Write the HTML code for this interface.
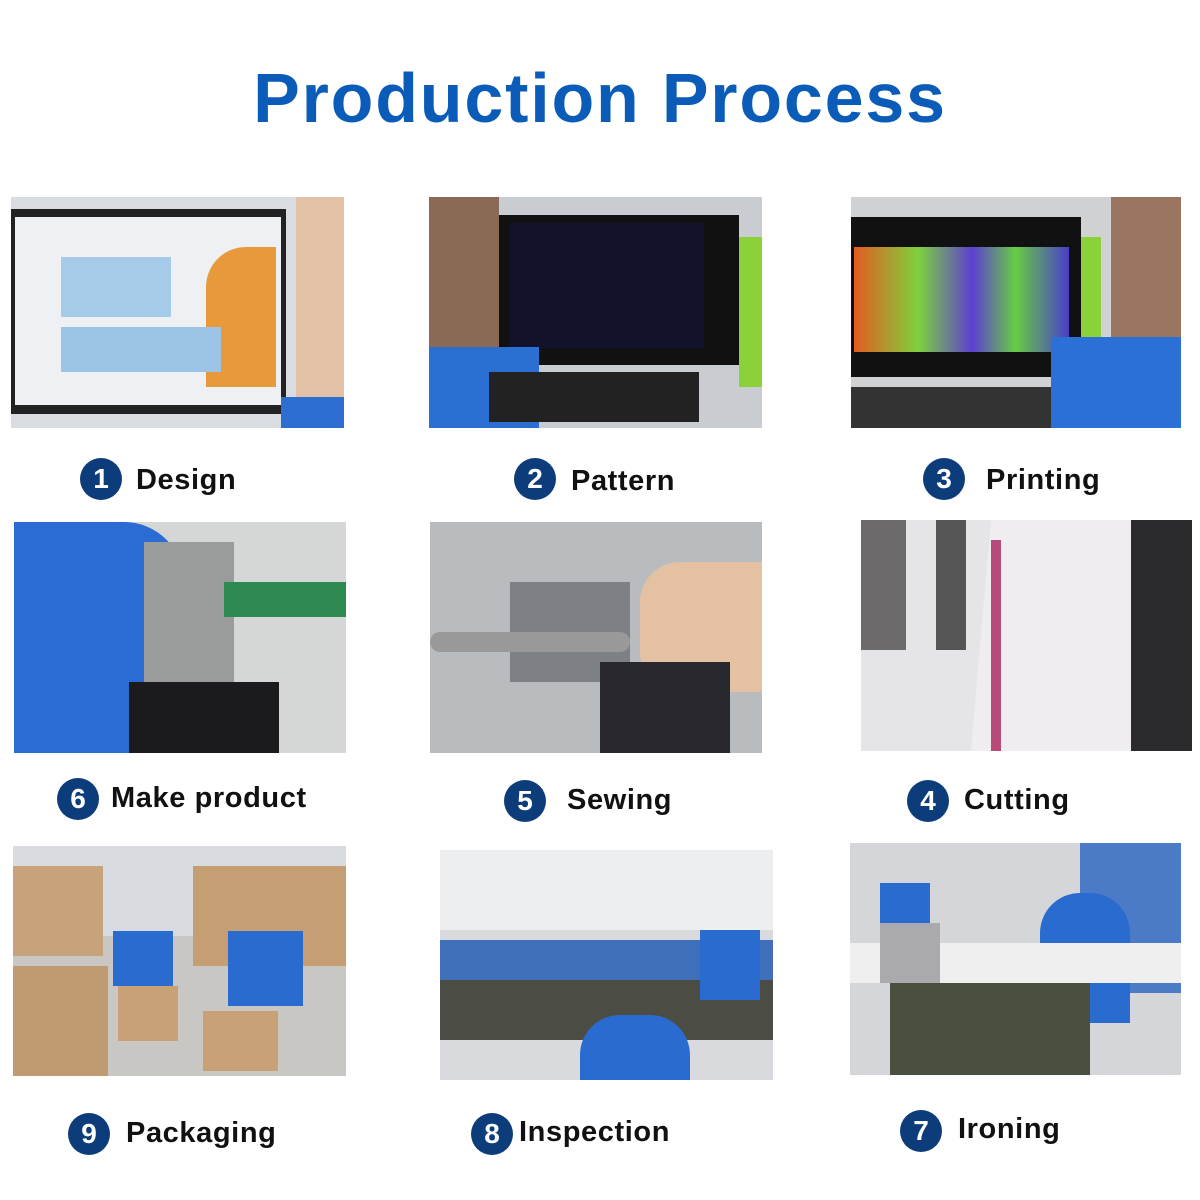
<!DOCTYPE html>
<html><head><meta charset="utf-8"><style>
body{margin:0;width:1200px;height:1200px;background:#fff;position:relative;overflow:hidden;font-family:"Liberation Sans",Arial,sans-serif}
.t{position:absolute;left:0;width:1200px;top:58px;text-align:center;font-size:70px;font-weight:bold;color:#0b5cb8;letter-spacing:1.8px}
.p{position:absolute;overflow:hidden}
.p div{position:absolute}
.b{position:absolute;width:42px;height:42px;border-radius:50%;background:#0d3c7a;color:#fff;font-weight:bold;font-size:28px;text-align:center;line-height:42px}
.l{position:absolute;font-size:29px;font-weight:bold;color:#111;letter-spacing:.6px}
</style></head><body>
<div class="t">Production Process</div>

<div class="p" style="left:11px;top:197px;width:333px;height:231px;background:#d9dde2">
 <div style="left:0;top:12px;width:275px;height:205px;background:#222"></div>
 <div style="left:4px;top:20px;width:266px;height:188px;background:#eef0f4"></div>
 <div style="left:195px;top:50px;width:70px;height:140px;background:#e89a3a;border-radius:40px 0 0 0"></div>
 <div style="left:50px;top:60px;width:110px;height:60px;background:#a6cbe8"></div>
 <div style="left:50px;top:130px;width:160px;height:45px;background:#9cc4e6"></div>
 <div style="left:285px;top:0;width:48px;height:231px;background:#e2c1a6"></div>
 <div style="left:270px;top:200px;width:63px;height:31px;background:#2d6fd0"></div>
</div>
<div class="p" style="left:429px;top:197px;width:333px;height:231px;background:#c9ccd0">
 <div style="left:70px;top:18px;width:240px;height:150px;background:#111"></div>
 <div style="left:80px;top:26px;width:195px;height:125px;background:#12122c"></div>
 <div style="left:0;top:0;width:70px;height:231px;background:#8a6a55"></div>
 <div style="left:0;top:150px;width:110px;height:81px;background:#2b6fd2"></div>
 <div style="left:60px;top:175px;width:210px;height:50px;background:#222"></div>
 <div style="left:310px;top:40px;width:23px;height:150px;background:#8bd23a"></div>
</div>
<div class="p" style="left:851px;top:197px;width:330px;height:231px;background:#cfd1d3">
 <div style="left:0;top:20px;width:230px;height:160px;background:#111"></div>
 <div style="left:3px;top:50px;width:215px;height:105px;background:linear-gradient(90deg,#e35c1f,#7dd13c 30%,#5d3fd0 55%,#66cc44 75%,#4a3ec8)"></div>
 <div style="left:230px;top:40px;width:20px;height:150px;background:#8bd23a"></div>
 <div style="left:260px;top:0;width:70px;height:140px;background:#9a7660"></div>
 <div style="left:200px;top:140px;width:130px;height:91px;background:#2b70d6"></div>
 <div style="left:0;top:190px;width:200px;height:41px;background:#333"></div>
</div>
<div class="p" style="left:14px;top:522px;width:332px;height:231px;background:#d5d6d6">
 <div style="left:0;top:0;width:170px;height:231px;background:#2a6cd4;border-radius:0 60px 0 0"></div>
 <div style="left:130px;top:20px;width:90px;height:140px;background:#9a9c9c"></div>
 <div style="left:210px;top:60px;width:122px;height:35px;background:#2f8a52"></div>
 <div style="left:115px;top:160px;width:150px;height:71px;background:#1b1b1d"></div>
</div>
<div class="p" style="left:430px;top:522px;width:332px;height:231px;background:#b9bcbe">
 <div style="left:80px;top:60px;width:120px;height:100px;background:#7d8085"></div>
 <div style="left:210px;top:40px;width:122px;height:130px;background:#e5c1a4;border-radius:40px 0 0 40px"></div>
 <div style="left:170px;top:140px;width:130px;height:91px;background:#27272d"></div>
 <div style="left:0;top:110px;width:200px;height:20px;background:#999;border-radius:10px"></div>
</div>
<div class="p" style="left:861px;top:520px;width:331px;height:231px;background:#e5e5e8">
 <div style="left:0;top:0;width:45px;height:130px;background:#6c6a6a"></div>
 <div style="left:75px;top:0;width:30px;height:130px;background:#555"></div>
 <div style="left:120px;top:0;width:211px;height:231px;background:#f0edf0;transform:skewX(-5deg)"></div>
 <div style="left:130px;top:20px;width:10px;height:211px;background:#b84a7a"></div>
 <div style="left:270px;top:0;width:61px;height:231px;background:#2b2b2e"></div>
</div>
<div class="p" style="left:13px;top:846px;width:333px;height:230px;background:#c9c7c3">
 <div style="left:0;top:0;width:333px;height:90px;background:#d8dbe0"></div>
 <div style="left:0;top:20px;width:90px;height:90px;background:#c7a27a"></div>
 <div style="left:180px;top:20px;width:153px;height:100px;background:#c69e74"></div>
 <div style="left:0;top:120px;width:95px;height:110px;background:#c09a70"></div>
 <div style="left:100px;top:85px;width:60px;height:55px;background:#2a6bd0"></div>
 <div style="left:105px;top:140px;width:60px;height:55px;background:#c8a276"></div>
 <div style="left:215px;top:85px;width:75px;height:75px;background:#2a6bd0"></div>
 <div style="left:190px;top:165px;width:75px;height:60px;background:#c8a276"></div>
</div>
<div class="p" style="left:440px;top:850px;width:333px;height:230px;background:#d8dade">
 <div style="left:0;top:0;width:333px;height:80px;background:#eceef0"></div>
 <div style="left:0;top:90px;width:333px;height:40px;background:#3f6fb8"></div>
 <div style="left:0;top:130px;width:333px;height:60px;background:#4b4d45"></div>
 <div style="left:260px;top:80px;width:60px;height:70px;background:#2a6bd0"></div>
 <div style="left:140px;top:165px;width:110px;height:65px;background:#2a6bd0;border-radius:40px 40px 0 0"></div>
</div>
<div class="p" style="left:850px;top:843px;width:331px;height:232px;background:#d4d6da">
 <div style="left:230px;top:0;width:101px;height:150px;background:#4b7ac7"></div>
 <div style="left:30px;top:40px;width:50px;height:80px;background:#2a6bd0"></div>
 <div style="left:190px;top:50px;width:90px;height:130px;background:#2a6bd0;border-radius:40px 40px 0 0"></div>
 <div style="left:0;top:100px;width:331px;height:40px;background:#efefef"></div>
 <div style="left:40px;top:140px;width:200px;height:92px;background:#4a5040"></div>
 <div style="left:30px;top:80px;width:60px;height:60px;background:#a9a9ae"></div>
</div>

<div class="b" style="left:80px;top:458px">1</div><div class="l" style="left:136px;top:464px">Design</div>
<div class="b" style="left:514px;top:458px">2</div><div class="l" style="left:571px;top:465px">Pattern</div>
<div class="b" style="left:923px;top:458px">3</div><div class="l" style="left:986px;top:464px">Printing</div>
<div class="b" style="left:57px;top:778px">6</div><div class="l" style="left:111px;top:782px">Make product</div>
<div class="b" style="left:504px;top:780px">5</div><div class="l" style="left:567px;top:784px">Sewing</div>
<div class="b" style="left:907px;top:780px">4</div><div class="l" style="left:964px;top:784px">Cutting</div>
<div class="b" style="left:68px;top:1113px">9</div><div class="l" style="left:126px;top:1117px">Packaging</div>
<div class="b" style="left:471px;top:1113px">8</div><div class="l" style="left:519px;top:1116px">Inspection</div>
<div class="b" style="left:900px;top:1110px">7</div><div class="l" style="left:958px;top:1113px">Ironing</div>
</body></html>
